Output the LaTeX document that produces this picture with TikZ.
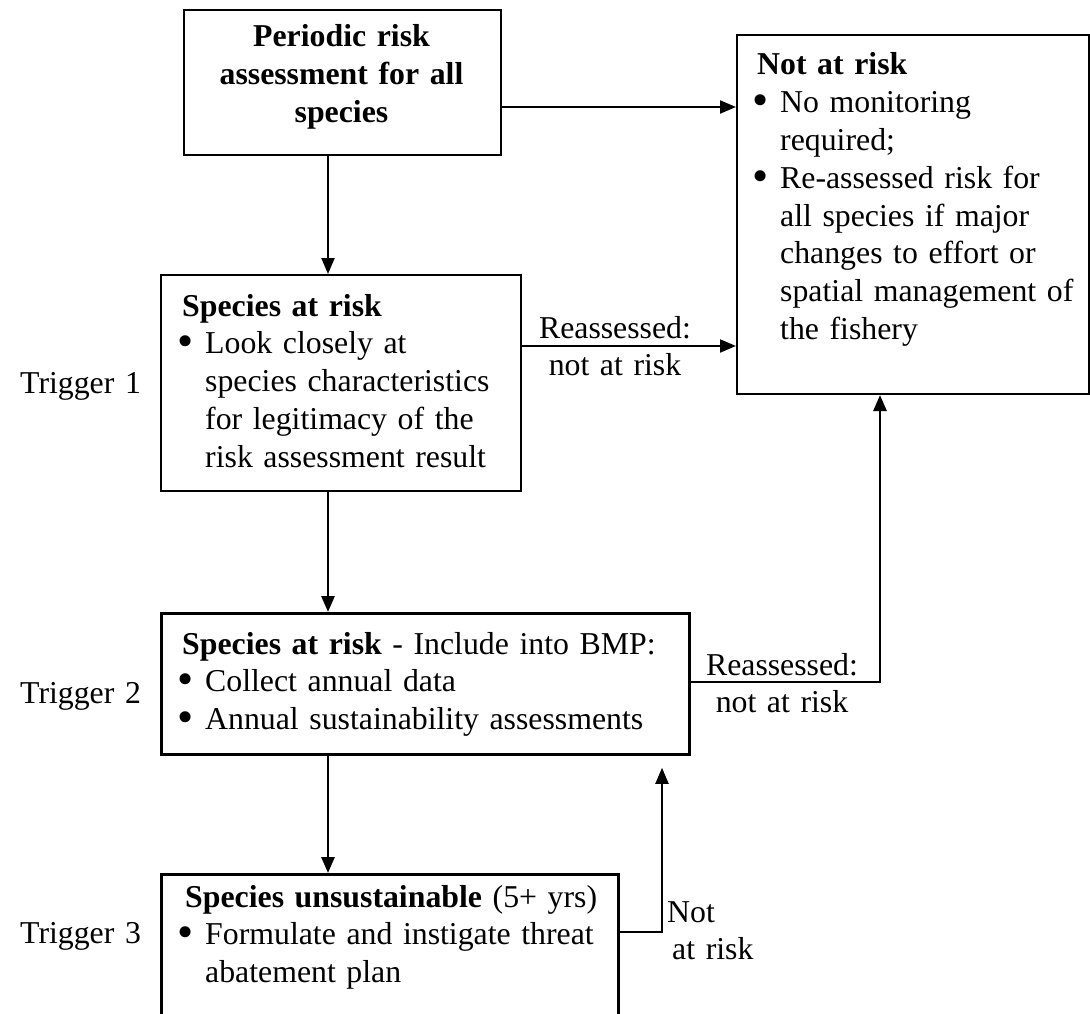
\documentclass[tikz,border=0pt]{standalone}
\usepackage{fontspec}
\usepackage{graphicx}
\setmainfont{Liberation Serif}
\usetikzlibrary{arrows.meta}
\newcommand\bul{\makebox[23pt][l]{\hspace*{-5pt}\smash{\raisebox{-3pt}{\scalebox{1.45}{\textbullet}}}}}
\newcommand\ind{\hspace*{23pt}}
\begin{document}
\begin{tikzpicture}[x=1pt,y=-1pt,
  box/.style={draw, line width=2pt, inner sep=0pt, anchor=north west},
  thickbox/.style={box, line width=2.8pt},
  txt/.style={anchor=base west, inner sep=0pt, text width=600pt, align=left,
    font=\fontsize{31.8}{37.8}\selectfont},
  ctxt/.style={anchor=base, inner sep=0pt, text width=400pt, align=center,
    font=\fontsize{31.8}{37.8}\selectfont},
  conn/.style={line width=2pt, -{Triangle[length=16pt,width=13pt]}},
  thickconn/.style={conn, line width=2.8pt},
]
\useasboundingbox (0,0) rectangle (1090,1014);
\clip (0,0) rectangle (1090,1014);

% boxes
\node[box, minimum width=317pt, minimum height=145pt] (b1) at (183,9) {};
\node[box, minimum width=352pt, minimum height=359pt] (nar) at (736,34) {};
\node[box, minimum width=360pt, minimum height=216pt] (b2) at (160,274) {};
\node[thickbox, minimum width=528pt, minimum height=141pt] (b3) at (160,612) {};
\node[thickbox, minimum width=457pt, minimum height=200pt] (b4) at (160,873) {};

% box texts
\node[ctxt] (t1) at (341.5,47) {\textbf{Periodic risk}\\ \textbf{assessment for all}\\ \textbf{species}};
\node[txt] (tnar) at (757,75) {\textbf{Not at risk}\\
  \bul No monitoring\\ \ind required;\\
  \bul Re-assessed risk for\\ \ind all species if major\\ \ind changes to effort or\\
  \ind spatial management of\\ \ind the fishery};
\node[txt] (t2) at (182,316) {\textbf{Species at risk}\\
  \bul Look closely at\\ \ind species characteristics\\ \ind for legitimacy of the\\
  \ind risk assessment result};
\node[txt] (t3) at (182,654) {\textbf{Species at risk} - Include into BMP:\\
  \bul Collect annual data\\ \bul Annual sustainability assessments};
\node[txt] (t4) at (182,907) {\hspace*{3pt}\textbf{Species unsustainable} (5+ yrs)\\
  \bul Formulate and instigate threat\\ \ind abatement plan};

% trigger labels
\node[txt] (tr1) at (20,393) {Trigger 1};
\node[txt] (tr2) at (20,703) {Trigger 2};
\node[txt] (tr3) at (20,943) {Trigger 3};

% connector labels
\node[ctxt] (l1) at (615,338) {Reassessed:\\ not at risk};
\node[ctxt] (l2) at (782,675) {Reassessed:\\ not at risk};
\node[txt] (l3) at (667,922) {Not\\ \hspace*{5pt}at risk};

% connectors
\draw[conn] (b1.east |- 0,107) -- (nar.west |- 0,107);
\draw[conn] (b1.south -| 328,0) -- (b2.north -| 328,0);
\draw[conn] (b2.east |- 0,346) -- (nar.west |- 0,346);
\draw[thickconn] (b2.south -| 328,0) -- (b3.north -| 328,0);
\draw[thickconn] (b3.south -| 328,0) -- (b4.north -| 328,0);
\coordinate (k1) at (880,682);
\draw[thickconn] (b3.east |- k1) -- (k1) -- (nar.south -| k1);
\coordinate (k2) at (662,932);
\draw[conn, shorten >=12pt] (b4.east |- k2) -- (k2) -- (b3.south -| k2);
\end{tikzpicture}
\end{document}
